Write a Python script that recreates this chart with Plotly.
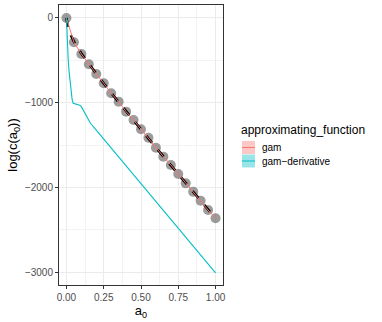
import plotly.graph_objects as go

# sampled points
pt_x = [0.0, 0.05, 0.10, 0.15, 0.20, 0.25, 0.30, 0.35, 0.40, 0.45, 0.50,
        0.55, 0.60, 0.65, 0.70, 0.75, 0.80, 0.85, 0.90, 0.95, 1.00]
pt_y = [0, -287, -425, -547, -661, -771, -889, -988, -1106, -1204, -1314,
        -1413, -1531, -1637, -1735, -1842, -1952, -2050, -2157, -2267, -2365]

# true curve (black dashed)
true_x = [0.0, 0.005, 0.01, 0.02, 0.035, 0.05, 0.10, 0.20, 0.30, 0.40, 0.50,
          0.60, 0.70, 0.80, 0.90, 1.00]
true_y = [0, -60, -110, -170, -225, -280, -420, -660, -885, -1105, -1315,
          -1530, -1737, -1950, -2157, -2365]

# gam fit (red) goes through the points
gam_x = pt_x
gam_y = pt_y

# gam-derivative (teal)
der_x = [0.0, 0.003, 0.006, 0.012, 0.018, 0.023, 0.03, 0.038, 0.045, 0.06,
         0.08, 0.09, 0.10, 0.12, 0.14, 0.16, 0.20, 0.30, 0.40, 0.50, 0.60,
         0.70, 0.80, 0.90, 1.00]
der_y = [0, -150, -300, -500, -640, -740, -860, -960, -1007, -1015,
         -1019, -1030, -1047, -1110, -1190, -1240, -1325, -1535, -1745, -1955,
         -2165, -2375, -2590, -2800, -3010]

legend_labels = ['gam', 'gam\u2212derivative']
legend_colors = ['#F8766D', '#00BFC4']
legend_fills = ['rgba(248,118,109,0.4)', 'rgba(0,191,196,0.4)']

fig = go.Figure()

fig.add_trace(go.Scatter(x=pt_x, y=pt_y, mode='markers',
                         marker=dict(size=10, color='rgba(90,90,90,0.6)', line=dict(width=0)),
                         showlegend=False))
fig.add_trace(go.Scatter(x=true_x, y=true_y, mode='lines',
                         line=dict(color='black', width=2.6, dash='dash'),
                         showlegend=False))
fig.add_trace(go.Scatter(x=gam_x, y=gam_y, mode='lines',
                         line=dict(color=legend_colors[0], width=1),
                         showlegend=False))
fig.add_trace(go.Scatter(x=der_x, y=der_y, mode='lines',
                         line=dict(color=legend_colors[1], width=1.1),
                         showlegend=False))

# manual ggplot-style legend (pixel -> paper coords)
L, R, T, B = 59, 223, 5, 285
def px(x):
    return (x - L) / (R - L)
def py(y):
    return (B - y) / (B - T)

fig.add_annotation(x=px(239), y=py(130), xref='paper', yref='paper',
                   text='approximating_function', showarrow=False,
                   xanchor='left', yanchor='middle',
                   font=dict(size=12, color='black'))
for i, (lab, col, fil) in enumerate(zip(legend_labels, legend_colors, legend_fills)):
    y0 = 141 + i * 13.5
    fig.add_shape(type='rect', xref='paper', yref='paper',
                  x0=px(242), x1=px(255), y0=py(y0), y1=py(y0 + 13),
                  fillcolor=fil, line=dict(width=0))
    fig.add_shape(type='line', xref='paper', yref='paper',
                  x0=px(242), x1=px(255), y0=py(y0 + 6.5), y1=py(y0 + 6.5),
                  line=dict(color=col, width=1))
    fig.add_annotation(x=px(260), y=py(y0 + 6.5), xref='paper', yref='paper',
                       text=lab, showarrow=False, xanchor='left', yanchor='middle',
                       font=dict(size=10, color='black'))

fig.update_layout(
    width=382, height=322,
    margin=dict(l=L, r=382 - R, t=T, b=322 - B),
    plot_bgcolor='white', paper_bgcolor='white',
    font=dict(family='Liberation Sans, Arial, sans-serif'),
    showlegend=False,
)
fig.update_xaxes(
    range=[-0.05, 1.05], tickvals=[0, 0.25, 0.5, 0.75, 1.0],
    ticktext=['0.00', '0.25', '0.50', '0.75', '1.00'],
    showgrid=True, gridcolor='#EBEBEB', gridwidth=1,
    minor=dict(tickvals=[0.125, 0.375, 0.625, 0.875], showgrid=True,
               gridcolor='#F3F3F3', gridwidth=0.5),
    showline=True, linecolor='#333333', linewidth=1, mirror=True,
    ticks='outside', ticklen=3, tickcolor='#333333',
    tickfont=dict(size=10, color='#4D4D4D'), zeroline=False,
    title=dict(text='a<sub>0</sub>', font=dict(size=13, color='black'), standoff=2),
)
fig.update_yaxes(
    range=[-3152, 153], tickvals=[0, -1000, -2000, -3000],
    ticktext=['0', '\u22121000', '\u22122000', '\u22123000'],
    showgrid=True, gridcolor='#EBEBEB', gridwidth=1,
    minor=dict(tickvals=[-500, -1500, -2500], showgrid=True,
               gridcolor='#F3F3F3', gridwidth=0.5),
    showline=True, linecolor='#333333', linewidth=1, mirror=True,
    ticks='outside', ticklen=3, tickcolor='#333333',
    tickfont=dict(size=10, color='#4D4D4D'), zeroline=False,
    title=dict(text='log(c(a<sub>0</sub>))', font=dict(size=13, color='black'), standoff=4),
)

# page body has a default margin; drop it so the figure sits at the corner
fig.write_html("out.html", config={'displayModeBar': False},
               post_script="document.body.style.margin='0px';")
